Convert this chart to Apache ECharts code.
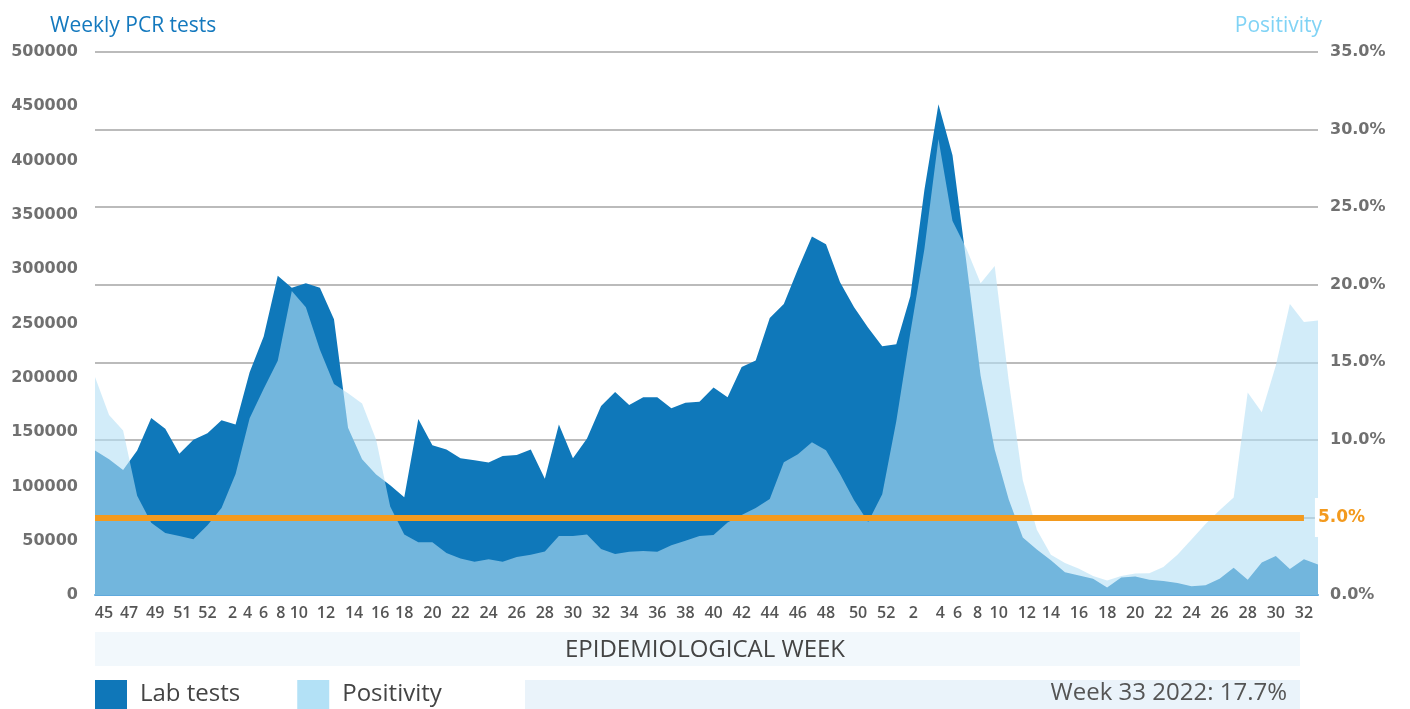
<!DOCTYPE html>
<html><head><meta charset="utf-8">
<script src="https://cdn.jsdelivr.net/npm/echarts@6/dist/echarts.min.js"></script>
<style>html,body{margin:0;padding:0;background:#fff}#c{width:1410px;height:709px}</style>
</head><body><div id="c"></div>
<script>
// Epidemiological week tick labels (one per weekly data point; blank = no label shown)
const weekLabels = ['45','','47','','49','','51','','52','','2','4','6','8','10','','12','','14','','16','','18','','20','','22','','24','','26','','28','','30','','32','','34','','36','','38','','40','','42','','44','','46','','48','','50','','52','','2','','4','6','','8','10','','12','','14','','16','','18','','20','','22','','24','','26','','28','','30','','32',''];

// Weekly PCR lab tests
const labTests = [133000,125000,115000,133000,163000,153000,130000,143000,149000,161000,
  157000,205000,238000,294000,283000,287000,283000,254000,154000,125000,
  111000,101000,90000,162000,138000,134000,126000,124000,122000,128000,
  129000,134000,107000,157000,126000,144000,174000,187000,175000,182000,
  182000,172000,177000,178000,191000,182000,210000,216000,255000,268000,
  300000,330000,323000,288000,265000,246000,229000,231000,275000,373000,
  452000,405000,305000,202000,134000,88000,53000,42000,32000,21000,
  18000,15000,7000,16000,17000,14000,13000,11000,8000,9000,
  15000,25000,14000,30000,36000,24000,33000,28000];

// Weekly positivity (%)
const positivity = [14.05,11.6,10.6,6.4,4.65,4.0,3.8,3.6,4.5,5.6,
  7.8,11.4,13.3,15.1,19.6,18.55,15.8,13.6,13.0,12.35,
  10.0,5.7,3.9,3.4,3.4,2.7,2.35,2.15,2.3,2.15,
  2.45,2.6,2.8,3.8,3.8,3.9,2.96,2.64,2.79,2.83,
  2.79,3.2,3.5,3.8,3.86,4.67,5.15,5.6,6.18,8.56,
  9.07,9.85,9.33,7.8,6.1,4.7,6.5,11.2,16.9,22.3,
  29.4,24.1,22.3,20.1,21.2,13.8,7.4,4.2,2.6,2.06,
  1.7,1.22,0.93,1.22,1.38,1.4,1.8,2.6,3.58,4.57,
  5.47,6.29,13.06,11.78,14.8,18.76,17.6,17.7];

const threshold = 5;       // positivity threshold (%)
const latestNote = 'Week 33 2022: 17.7%';

// small horizontal nudges (px) for tick labels that sit between weekly points in the original
const labelNudge = {0: 9, 2: 6, 4: 4, 6: 3, 10: -3, 11: -2, 13: 3, 14: 7, 16: 6, 18: 6, 20: 4,
                    54: 4, 56: 4, 58: 3, 60: 2, 61: 5, 63: -3, 64: 4, 66: 4};
const rich = {};
Object.keys(labelNudge).forEach(k => {
  const s = labelNudge[k];
  rich['n' + k] = {padding: s > 0 ? [0, 0, 0, 2 * s] : [0, -2 * s, 0, 0]};
});

const chart = echarts.init(document.getElementById('c'), null, {renderer: 'canvas'});
chart.setOption({
  animation: false,
  title: [
    {text: 'Weekly PCR tests', left: 45, top: 11,
     textStyle: {color: '#1479be', fontFamily: 'Open Sans', fontWeight: 'normal', fontSize: 21}},
    {text: 'Positivity', right: 83, top: 11,
     textStyle: {color: '#80d3f5', fontFamily: 'Open Sans', fontWeight: 'normal', fontSize: 21}}
  ],
  grid: {left: 95, right: 92, top: 52, bottom: 114},
  xAxis: {
    type: 'category', data: weekLabels, boundaryGap: false,
    axisLine: {show: true, lineStyle: {color: '#5fa9dc', width: 2}},
    axisTick: {show: false},
    axisLabel: {interval: 0, color: '#555', fontFamily: 'Open Sans', fontWeight: 600, fontSize: 16, margin: 10,
      rich: rich,
      formatter: (v, i) => (v && labelNudge[i] !== undefined) ? '{n' + i + '|' + v + '}' : v}
  },
  yAxis: [
    {type: 'value', min: 0, max: 500000, interval: 50000, position: 'left',
     axisLine: {show: false}, axisTick: {show: false}, splitLine: {show: false},
     axisLabel: {color: '#707070', fontFamily: 'DejaVu Sans', fontWeight: 'bold', fontSize: 16, margin: 17,
       formatter: v => String(v)}},
    {type: 'value', min: 0, max: 35, interval: 5, position: 'right',
     axisLine: {show: false}, axisTick: {show: false},
     splitLine: {show: true, lineStyle: {color: '#a4a4a4', width: 1.5}},
     axisLabel: {color: '#707070', fontFamily: 'DejaVu Sans', fontWeight: 'bold', fontSize: 16, margin: 12,
       formatter: v => v === threshold ? '' : v.toFixed(1) + '%'}}
  ],
  legend: {
    left: 90, top: 675, itemWidth: 32, itemHeight: 29, itemGap: 57, icon: 'rect',
    textStyle: {fontFamily: 'Open Sans', fontSize: 24, color: '#444', padding: [0, 0, 0, 8]},
    data: [{name: 'Lab tests', itemStyle: {color: '#0f77b9'}},
           {name: 'Positivity', itemStyle: {color: '#b3e1f6'}}]
  },
  graphic: [
    {type: 'rect', left: 95, top: 632, shape: {width: 1205, height: 34}, style: {fill: '#f2f8fc'}, z: -1},
    {type: 'text', left: 'center', top: 638,
     style: {text: 'EPIDEMIOLOGICAL WEEK', fill: '#444', font: '24px "Open Sans"'}},
    {type: 'rect', left: 525, top: 680, shape: {width: 775, height: 29}, style: {fill: '#eaf3fa'}, z: -1},
    {type: 'text', right: 123, top: 681,
     style: {text: latestNote, fill: '#555', font: '24px "Open Sans"'}}
  ],
  series: [
    {name: 'Lab tests', type: 'line', data: labTests, yAxisIndex: 0, symbol: 'none', z: 2,
     lineStyle: {width: 0}, itemStyle: {color: '#0f77b9'},
     areaStyle: {color: '#0f78ba', opacity: 1}},
    {name: 'Positivity', type: 'line', data: positivity, yAxisIndex: 1, symbol: 'none', z: 3,
     lineStyle: {width: 0}, itemStyle: {color: '#b3e1f6'},
     areaStyle: {color: 'rgba(180,223,245,0.6)', opacity: 1},
     markLine: {
       symbol: 'none', silent: true, z: 5,
       lineStyle: {color: '#f39a1e', width: 6, type: 'solid'},
       label: {show: true, position: 'end', formatter: threshold.toFixed(1) + '%', color: '#f39a1e',
               fontFamily: 'DejaVu Sans', fontWeight: 'bold', fontSize: 17,
               backgroundColor: '#fff', padding: [11, 3], distance: 11},
       data: [[{xAxis: 0, yAxis: threshold}, {xAxis: weekLabels.length - 2, yAxis: threshold}]]
     }}
  ]
});
</script></body></html>
